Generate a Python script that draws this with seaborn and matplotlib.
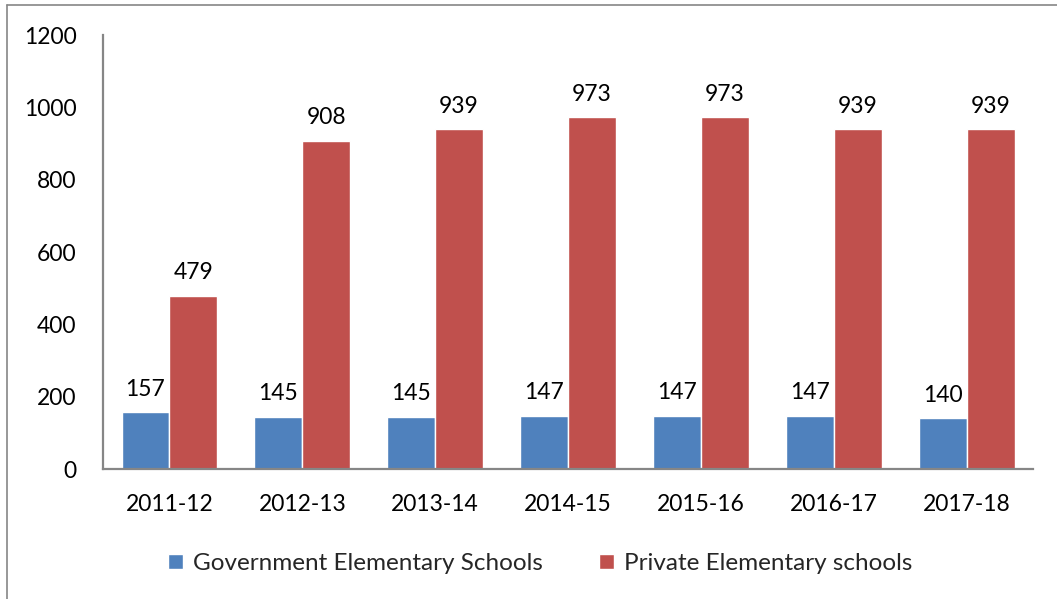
import matplotlib
matplotlib.use("Agg")
import matplotlib.pyplot as plt
from matplotlib.lines import Line2D
import seaborn as sns
import pandas as pd

years = ["2011-12", "2012-13", "2013-14", "2014-15", "2015-16", "2016-17", "2017-18"]
government = [157, 145, 145, 147, 147, 147, 140]
private = [479, 908, 939, 973, 973, 939, 939]
series_names = ["Government Elementary Schools", "Private Elementary schools"]
colors = ["#4F81BD", "#C0504D"]

df = pd.DataFrame({
    "Year": years * 2,
    "Schools": government + private,
    "Type": [series_names[0]] * len(years) + [series_names[1]] * len(years),
})

sns.set_theme(style="white")
plt.rcParams["font.family"] = ["Lato", "DejaVu Sans"]

fs = 16.5

fig = plt.figure(figsize=(10.57, 5.99), dpi=100)
ax = fig.add_axes([0.0974, 0.217, 0.88, 0.7245])

sns.barplot(data=df, x="Year", y="Schools", hue="Type", palette=colors,
            width=0.72, saturation=1, ax=ax, legend=True)

ax.set_ylim(0, 1200)
ax.set_yticks(range(0, 1201, 200))
ax.set_xlim(-0.5, len(years) - 0.5)
ax.set_xlabel("")
ax.set_ylabel("")
ax.tick_params(axis="both", length=0, labelsize=fs, colors="black")
ax.tick_params(axis="y", pad=19)
ax.tick_params(axis="x", pad=18)

for side in ["top", "right"]:
    ax.spines[side].set_visible(False)
for side in ["left", "bottom"]:
    ax.spines[side].set_color("#868686")
    ax.spines[side].set_linewidth(1.6)

for container in ax.containers:
    ax.bar_label(container, fmt="%d", padding=9, fontsize=fs, color="black")

handles, labels = ax.get_legend_handles_labels()
ax.legend(handles, labels, loc="upper center", bbox_to_anchor=(0.47, -0.143),
          ncol=2, frameon=False, fontsize=17.5, handlelength=0.62, handleheight=0.62,
          handletextpad=0.4, columnspacing=2.3)

# outer chart frame
fig.add_artist(Line2D([0.0066, 0.0066], [0.0, 0.992], color="#868686", lw=1.2,
                      transform=fig.transFigure))
fig.add_artist(Line2D([0.0066, 1.0], [0.992, 0.992], color="#868686", lw=1.2,
                      transform=fig.transFigure))

fig.savefig("out.png", dpi=100)
